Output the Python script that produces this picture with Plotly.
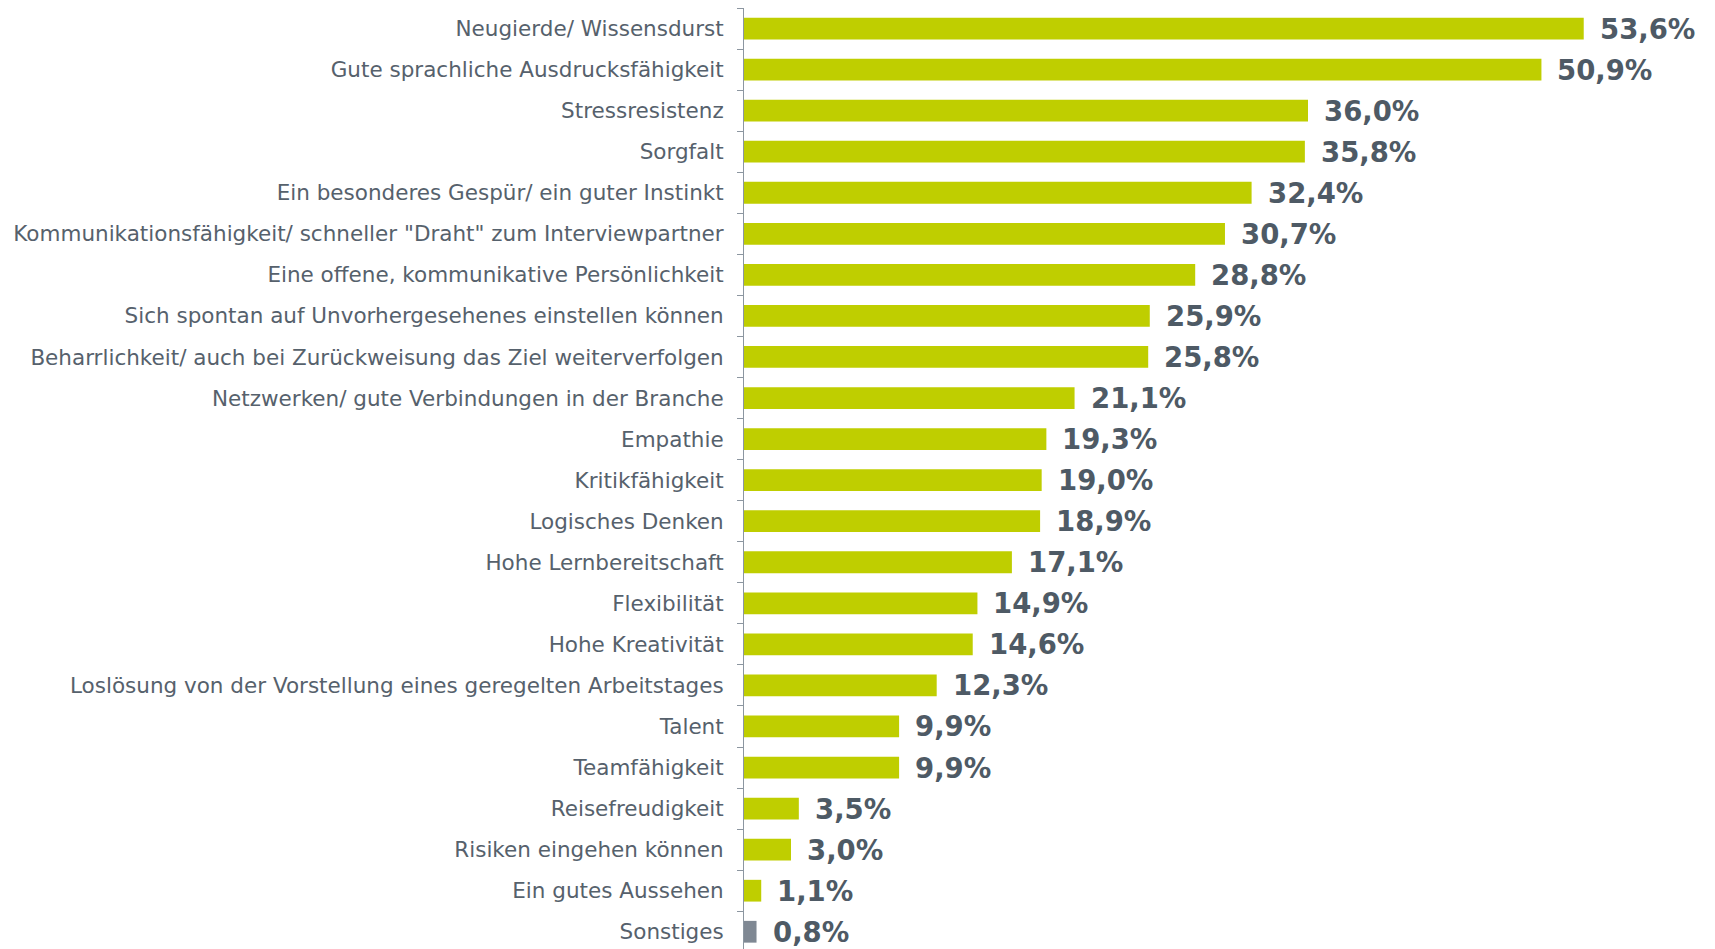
import plotly.graph_objects as go

categories = [
    "Neugierde/ Wissensdurst",
    "Gute sprachliche Ausdrucksfähigkeit",
    "Stressresistenz",
    "Sorgfalt",
    "Ein besonderes Gespür/ ein guter Instinkt",
    "Kommunikationsfähigkeit/ schneller \"Draht\" zum Interviewpartner",
    "Eine offene, kommunikative Persönlichkeit",
    "Sich spontan auf Unvorhergesehenes einstellen können",
    "Beharrlichkeit/ auch bei Zurückweisung das Ziel weiterverfolgen",
    "Netzwerken/ gute Verbindungen in der Branche",
    "Empathie",
    "Kritikfähigkeit",
    "Logisches Denken",
    "Hohe Lernbereitschaft",
    "Flexibilität",
    "Hohe Kreativität",
    "Loslösung von der Vorstellung eines geregelten Arbeitstages",
    "Talent",
    "Teamfähigkeit",
    "Reisefreudigkeit",
    "Risiken eingehen können",
    "Ein gutes Aussehen",
    "Sonstiges",
]
values = [53.6, 50.9, 36.0, 35.8, 32.4, 30.7, 28.8, 25.9, 25.8, 21.1, 19.3, 19.0,
          18.9, 17.1, 14.9, 14.6, 12.3, 9.9, 9.9, 3.5, 3.0, 1.1, 0.8]
value_labels = [f"{v:.1f}%".replace(".", ",") for v in values]

GREEN = "#BFCE00"
GRAY = "#7F8893"
TEXT = "#56616C"
VAL = "#4E5A65"

colors = [GRAY if c == "Sonstiges" else GREEN for c in categories]

fig = go.Figure()
fig.add_trace(go.Bar(
    x=values, y=categories, orientation="h",
    marker=dict(color=colors, line=dict(width=0)),
    hoverinfo="skip",
))

for c, v, t in zip(categories, values, value_labels):
    fig.add_annotation(
        x=v, y=c, text=t, showarrow=False, xanchor="left", yanchor="middle",
        xshift=14, font=dict(family="DejaVu Sans", size=27.5, color=VAL, weight="bold"),
    )

# page body has an 8px default margin, so the figure is offset by 8px
fig.update_layout(
    width=1707, height=941,
    margin=dict(l=736, r=31, t=0, b=0),
    paper_bgcolor="white", plot_bgcolor="white",
    bargap=0.47,
    showlegend=False,
    xaxis=dict(range=[0, 60], visible=False),
    yaxis=dict(
        type="category",
        range=[22.42, -0.5],
        showline=True, linecolor="#8C96A0", linewidth=1,
        ticks="outside", tickson="boundaries", ticklen=6, tickcolor="#8C96A0",
        tickfont=dict(family="DejaVu Sans", size=21.5, color=TEXT),
        ticklabelstandoff=15,
        showgrid=False, zeroline=False,
    ),
)

fig.write_html("out.html")
